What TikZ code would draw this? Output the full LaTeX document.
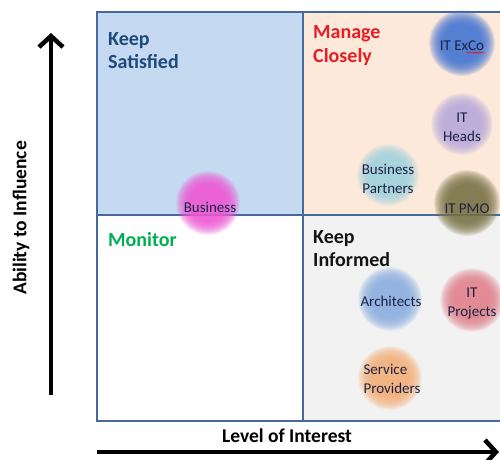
\documentclass[tikz,border=0pt]{standalone}
\usepackage{fontspec}
\setmainfont{Carlito}
\usetikzlibrary{arrows.meta,decorations.pathmorphing}
\definecolor{qtl}{RGB}{197,217,241}
\definecolor{qtr}{RGB}{253,233,218}
\definecolor{qbr}{RGB}{242,242,242}
\definecolor{qborder}{RGB}{70,105,155}
\definecolor{tsat}{RGB}{31,73,125}
\definecolor{tman}{RGB}{232,28,36}
\definecolor{tmon}{RGB}{0,176,80}
\definecolor{tinf}{RGB}{20,20,20}
\definecolor{ctext}{RGB}{30,35,70}
\definecolor{cexco}{RGB}{68,118,210}
\definecolor{cheads}{RGB}{185,170,218}
\definecolor{cpartners}{RGB}{160,212,226}
\definecolor{cpmo}{RGB}{122,116,72}
\definecolor{cbusiness}{RGB}{240,88,214}
\definecolor{carch}{RGB}{140,175,225}
\definecolor{cproj}{RGB}{226,130,140}
\definecolor{cserv}{RGB}{248,176,120}
\newcommand\myblob[3]{% position, colour, radius
  \foreach \k in {0,...,13} {
    \fill[#2, fill opacity=0.15] (#1) circle[radius={(1.06-0.035*\k)*#3pt}];
  }
}
\tikzset{
  quadtitle/.style={anchor=north west, align=left, inner sep=0pt,
    font=\fontsize{20}{23.5}\selectfont\bfseries},
  blobtext/.style={align=center, inner sep=0pt, text=ctext,
    font=\fontsize{15}{19}\selectfont},
  axislabel/.style={inner sep=0pt, font=\fontsize{19.5}{22}\selectfont\bfseries},
  axisarrow/.style={line width=4.5pt, -{Straight Barb[length=11pt,width=24pt]}},
  quadborder/.style={draw=qborder, line width=2pt}
}
\begin{document}
\begin{tikzpicture}[x=1pt,y=-1pt]
\clip (0,0) rectangle (500,459);
\fill[white] (0,0) rectangle (500,459);
% quadrants
\fill[qtl] (97,12) rectangle (303,215);
\fill[qtr] (303,12) rectangle (510,215);
\fill[qbr] (303,215) rectangle (510,421);
\draw[quadborder] (97,12) rectangle (510,421);
\draw[quadborder] (303,12) -- (303,421);
\draw[quadborder] (97,215) -- (510,215);
% titles
\node[quadtitle, text=tsat] (tsat) at (108,32) {Keep\\Satisfied};
\node[quadtitle, text=tman] (tman) at (313,25.5) {Manage\\Closely};
\node[quadtitle, text=tmon] (tmon) at (108,232) {Monitor};
\node[quadtitle, text=tinf] (tinf) at (313,230) {Keep\\Informed};
% blobs
\myblob{462,43}{cexco}{31}
\myblob{462,124}{cheads}{29}
\myblob{388,175}{cpartners}{29}
\myblob{467,203}{cpmo}{31}
\myblob{208,203}{cbusiness}{30}
\myblob{390,299}{carch}{30}
\myblob{472,300}{cproj}{30}
\myblob{390,378}{cserv}{30}
\node[blobtext] (exco) at (462,46) {IT ExCo};
\draw[tman, line width=0.6pt, decorate, decoration={snake, amplitude=0.6pt, segment length=2.5pt}]
  ([xshift=-18pt,yshift=-1.5pt]exco.south east) -- ([yshift=-1.5pt]exco.south east);
\node[blobtext] (heads) at (462,127) {IT\\Heads};
\node[blobtext] (partners) at (388,179) {Business\\Partners};
\node[blobtext] (pmo) at (467,209) {IT PMO};
\node[blobtext] (business) at (210,207) {Business};
\node[blobtext] (arch) at (391,301) {Architects};
\node[blobtext] (proj) at (472,303) {IT\\Projects};
\node[blobtext, align=left] (serv) at (392,379) {Service\\Providers};
% axes
\coordinate (ybot) at (51,395);
\coordinate (ytop) at (51,33);
\coordinate (xleft) at (97,452);
\coordinate (xright) at (499,452);
\draw[axisarrow] (ybot) -- (ytop);
\draw[axisarrow] (xleft) -- (xright);
\node[axislabel, rotate=90] (ylabel) at (21,218) {Ability to Influence};
\node[axislabel] (xlabel) at (287,436) {Level of Interest};
\end{tikzpicture}
\end{document}
